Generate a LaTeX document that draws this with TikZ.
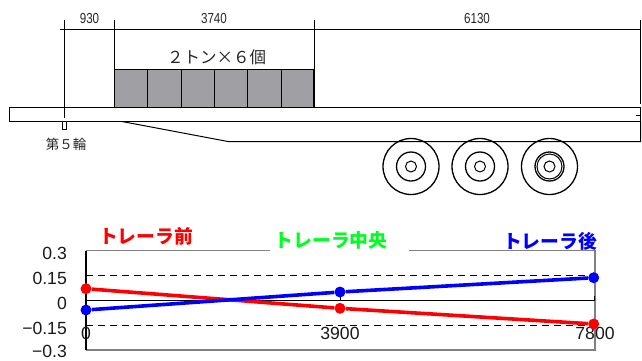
\documentclass[tikz,border=0pt]{standalone}
\usepackage{fontspec}
\setmainfont{Liberation Sans}
\newfontfamily\cjk{Noto Sans CJK JP}
\newfontfamily\dimfont[FakeStretch=0.8]{Liberation Sans}
\definecolor{loadgray}{HTML}{A09FA4}
\definecolor{framegray}{HTML}{808080}
\definecolor{midgreen}{HTML}{00FF21}
\begin{document}
\begin{tikzpicture}[x=1pt, y=-1pt]
    \tikzstyle{every node}=[inner sep=0pt, text=black]
    \tikzstyle{edge}=[black, line width=1pt]
    \tikzstyle{load}=[draw=black, fill=loadgray, line width=1pt]
    \tikzstyle{dimtext}=[font=\dimfont\fontsize{14.5}{14.5}\selectfont, text=black!85]
    \tikzstyle{jptext}=[font=\cjk\fontsize{16.5}{16.5}\selectfont, text=black!85]
    \tikzstyle{axistext}=[font=\fontsize{17.6}{17.6}\selectfont, text=black!90]
    \tikzstyle{series}=[font=\cjk\bfseries\fontsize{18.8}{18.8}\selectfont]
    \tikzstyle{redline}=[red, line width=3.6pt]
    \tikzstyle{blueline}=[blue, line width=3.6pt]
    \tikzstyle{reddot}=[circle, fill=red, minimum size=11pt]
    \tikzstyle{bluedot}=[circle, fill=blue, minimum size=11pt]
    \useasboundingbox (0,0) rectangle (642,360);

    % dimensions
    \draw[edge] (60,29.5) -- (640,29.5);
    \draw[edge] (64,20) -- (64,118);
    \draw[edge] (114.5,20) -- (114.5,107);
    \draw[edge] (314.5,20) -- (314.5,69);
    \draw[edge] (640.5,20) -- (640.5,104);
    \node[dimtext] (d1) at (89.5,18.5) {930};
    \node[dimtext] (d2) at (214,18.5) {3740};
    \node[dimtext] (d3) at (477,18.5) {6130};
    \node[jptext] (weight) at (216.5,57.5) {２トン×６個};

    % load
    \draw[load] (114.5,69.5) rectangle (147.5,107.5);
    \draw[load] (147.5,69.5) rectangle (181.5,107.5);
    \draw[load] (181.5,69.5) rectangle (214.5,107.5);
    \draw[load] (214.5,69.5) rectangle (247.5,107.5);
    \draw[load] (247.5,69.5) rectangle (281.5,107.5);
    \draw[load] (281.5,69.5) rectangle (314,107.5);
    \draw[black, line width=1.6pt] (314,69.5) -- (314,107.5);

    % trailer
    \draw[edge] (9.5,107.5) rectangle (640.5,121.5);
    \draw[edge] (122,121.5) -- (228,141.5) -- (640.5,141.5) -- (640.5,121.5);
    \draw[edge] (636,115) -- (640.5,115);
    \draw[edge] (62.5,121.5) rectangle (66.5,129.5);
    \node[jptext, font=\cjk\fontsize{13.5}{13.5}\selectfont] (kingpin) at (66,144.5) {第５輪};

    % wheels
    \foreach \wx in {411,480,549.5} {
        \draw[edge, line width=1.3pt] (\wx,166.5) circle (28);
        \draw[edge, line width=1.3pt] (\wx,166.5) circle (14.5);
        \draw[edge] (\wx,166.5) circle (5.5);
    }
    \draw[edge] (549.5,166.5) circle (12.5);

    % chart
    \draw[framegray, line width=1.2pt] (86,350) -- (595,350) -- (595,250.5) -- (409,250.5);
    \draw[framegray, line width=1pt] (86,250.5) -- (270,250.5);
    \draw[edge, line width=1.1pt] (86,250.5) -- (86,350);
    \draw[edge] (86,300.5) -- (594.5,300.5) -- (594.5,296);
    \draw[edge] (340,300.5) -- (340,296);
    \draw[black, dash pattern=on 7pt off 5pt, line width=0.8pt] (86,275.5) -- (595,275.5);
    \draw[black, dash pattern=on 7pt off 5pt, line width=0.8pt] (86,325) -- (595,325);

    \node[axistext, anchor=east] (y1) at (67,253.5) {0.3};
    \node[axistext, anchor=east] (y2) at (67,278.5) {0.15};
    \node[axistext, anchor=east] (y3) at (67,303) {0};
    \node[axistext, anchor=east] (y4) at (67,328) {−0.15};
    \node[axistext, anchor=east] (y5) at (67,351) {−0.3};
    \node[axistext] (x1) at (86,333) {0};
    \node[axistext] (x2) at (340,333) {3900};
    \node[axistext] (x3) at (595,333) {7800};

    % series
    \node[reddot] (r1) at (86,288.7) {};
    \node[reddot] (r2) at (340,308.3) {};
    \node[reddot] (r3) at (593.7,324) {};
    \node[bluedot] (b1) at (86,310) {};
    \node[bluedot] (b2) at (340,292) {};
    \node[bluedot] (b3) at (593.7,277.7) {};
    \draw[redline] (r1) -- (r2) -- (r3);
    \draw[blueline] (b1) -- (b2) -- (b3);

    \node[series, text=red] (front) at (146,236) {トレーラ前};
    \node[series, text=midgreen] (middle) at (331,240) {トレーラ中央};
    \node[series, text=blue] (rear) at (550,241) {トレーラ後};
\end{tikzpicture}
\end{document}
